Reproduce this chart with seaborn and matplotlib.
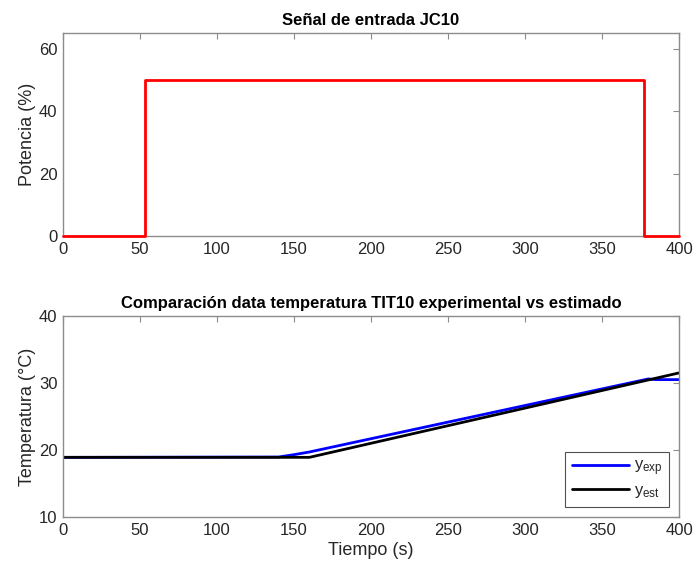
import numpy as np
import pandas as pd
import matplotlib
matplotlib.use("Agg")
import matplotlib.pyplot as plt
import seaborn as sns

# Input signal (step)
t_in = [0, 53, 53, 377, 377, 400]
p_in = [0, 0, 50, 50, 0, 0]

# Temperature: experimental
t_exp = [0, 140, 150, 160, 380, 385, 400]
y_exp = [18.9, 18.95, 19.3, 19.7, 30.6, 30.5, 30.5]

# Temperature: estimated
t_est = [0, 160, 400]
y_est = [18.9, 18.9, 31.5]

sns.set_style("white")
plt.rcParams['font.family'] = ['Liberation Sans', 'DejaVu Sans']

fig = plt.figure(figsize=(6.94, 5.72), dpi=100)
ax1 = fig.add_axes([0.0908, 0.5874, 0.8876, 0.3549])
ax2 = fig.add_axes([0.0908, 0.0962, 0.8876, 0.3514])

spine_c = '#8c8c8c'
txt_c = '#262626'

df_in = pd.DataFrame({'t': t_in, 'p': p_in})
sns.lineplot(data=df_in, x='t', y='p', ax=ax1, color='#ff0000', lw=2, sort=False,
             estimator=None, clip_on=False, zorder=5)
ax1.set_xlim(0, 400)
ax1.set_ylim(0, 65)
ax1.set_xticks(np.arange(0, 401, 50))
ax1.set_yticks([0, 20, 40, 60])
ax1.set_xlabel('')
ax1.set_ylabel('Potencia (%)', fontsize=13, color=txt_c)
ax1.set_title('Señal de entrada JC10', fontsize=12, fontweight='bold', color='black')

df_exp = pd.DataFrame({'t': t_exp, 'y': y_exp})
df_est = pd.DataFrame({'t': t_est, 'y': y_est})
sns.lineplot(data=df_exp, x='t', y='y', ax=ax2, color='#0000ff', lw=2,
             label=r'$\mathregular{y_{exp}}$', sort=False, estimator=None)
sns.lineplot(data=df_est, x='t', y='y', ax=ax2, color='black', lw=2,
             label=r'$\mathregular{y_{est}}$', sort=False, estimator=None)
ax2.set_xlim(0, 400)
ax2.set_ylim(10, 40)
ax2.set_xticks(np.arange(0, 401, 50))
ax2.set_yticks([10, 20, 30, 40])
ax2.set_xlabel('Tiempo (s)', fontsize=13, color=txt_c)
ax2.set_ylabel('Temperatura (°C)', fontsize=13, color=txt_c)
ax2.set_title('Comparación data temperatura TIT10 experimental vs estimado',
              fontsize=12, fontweight='bold', color='black')
leg = ax2.legend(loc='lower right', fontsize=12, frameon=True, fancybox=False,
                 edgecolor='#262626', handlelength=3.4, borderaxespad=0.6,
                 labelspacing=0.3, handletextpad=0.3)
leg.get_frame().set_linewidth(0.8)

for ax in (ax1, ax2):
    for s in ax.spines.values():
        s.set_color(spine_c)
        s.set_linewidth(1.0)
    ax.tick_params(direction='in', top=True, right=True, length=4, width=0.8,
                   colors=spine_c, labelcolor=txt_c, labelsize=12, pad=4)
    ax.yaxis.labelpad = 2
    ax.xaxis.labelpad = 3

fig.savefig('out.png', dpi=100)
